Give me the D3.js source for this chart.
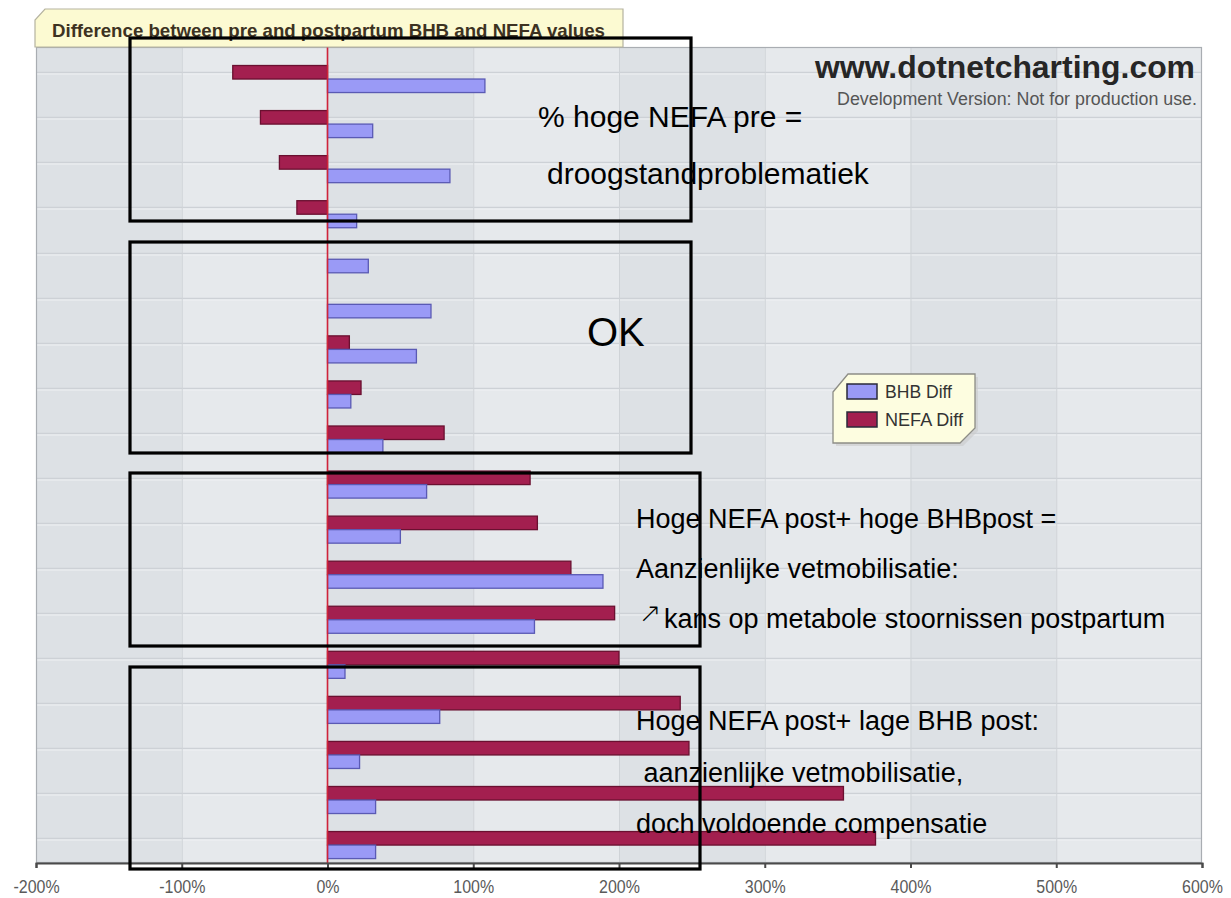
<!DOCTYPE html>
<html>
<head>
<meta charset="utf-8">
<script src="https://cdn.jsdelivr.net/npm/d3@7"></script>
<style>
  html, body { margin: 0; padding: 0; background: #ffffff; }
  svg { display: block; font-family: "Liberation Sans", Arial, sans-serif; }
</style>
</head>
<body>
<svg id="chart" width="1231" height="898"></svg>
<script>
// ---- data ----
const categories = ["1","2","3","4","5","6","7","8","9","10","11","12","13","14","15","16","17","18"];
const seriesNames = ["NEFA Diff", "BHB Diff"];
const bhbDiff  = [108, 31, 84, 20, 28, 71, 61, 16, 38, 68, 50, 189, 142, 12, 77, 22, 33, 33];
const nefaDiff = [-65, -46, -33, -21, 0, 0, 15, 23, 80, 139, 144, 167, 197, 200, 242, 248, 354, 376];
const xTicks = [-200, -100, 0, 100, 200, 300, 400, 500, 600];
const legendItems = ["BHB Diff", "NEFA Diff"];
const titleText = "Difference between pre and postpartum BHB and NEFA values";
const annotations = [
  ["% hoge NEFA pre =", "droogstandproblematiek"],
  ["OK"],
  ["Hoge NEFA post+ hoge BHBpost =", "Aanzienlijke vetmobilisatie:", "kans op metabole stoornissen postpartum"],
  ["Hoge NEFA post+ lage BHB post:", " aanzienlijke vetmobilisatie,", "doch voldoende compensatie"]
];

// ---- layout ----
const W = 1231, H = 898;
const plot = { left: 36, right: 1202, top: 47, bottom: 863 };
const colors = { "BHB Diff": "#9a9af6", "NEFA Diff": "#a31f4f" };
const strokes = { "BHB Diff": "#5a5ab4", "NEFA Diff": "#6a1030" };

const svg = d3.select("#chart");

const x = d3.scaleLinear().domain([-200, 600]).range([plot.left, plot.right]);
const y = d3.scaleBand().domain(categories).range([56.5, 867.6]).paddingInner(0.4).paddingOuter(0.2);
const sub = d3.scaleBand().domain(seriesNames).range([0, y.bandwidth()]);

const rows = categories.map((c, i) => ({ cat: c, "BHB Diff": bhbDiff[i], "NEFA Diff": nefaDiff[i] }));

// ---- plot background with alternating column bands ----
svg.append("rect").attr("x", plot.left).attr("y", plot.top)
  .attr("width", plot.right - plot.left).attr("height", plot.bottom - plot.top)
  .attr("fill", "#e5e8eb");
const intervals = d3.pairs(xTicks);
svg.append("g").selectAll("rect").data(intervals).join("rect")
  .attr("x", d => x(d[0])).attr("y", plot.top)
  .attr("width", d => x(d[1]) - x(d[0])).attr("height", plot.bottom - plot.top)
  .attr("fill", (d, i) => i % 2 === 0 ? "#dde1e5" : "#e6e9ec");

// horizontal gridlines
const hg = svg.append("g");
categories.forEach(c => {
  const gy = Math.round(y(c) + sub("NEFA Diff") + sub.bandwidth() / 2) + 0.5;
  hg.append("line").attr("x1", plot.left).attr("x2", plot.right).attr("y1", gy).attr("y2", gy)
    .attr("stroke", "#cdd1d6").attr("stroke-width", 1.5);
  hg.append("line").attr("x1", plot.left).attr("x2", plot.right).attr("y1", gy + 1.5).attr("y2", gy + 1.5)
    .attr("stroke", "#f0f2f4").attr("stroke-width", 1);
});
// vertical gridlines
svg.append("g").selectAll("line").data(xTicks.slice(1, -1)).join("line")
  .attr("x1", d => x(d) + 0.5).attr("x2", d => x(d) + 0.5)
  .attr("y1", plot.top).attr("y2", plot.bottom)
  .attr("stroke", "#cfd3d7").attr("stroke-width", 1);

// plot frame
svg.append("rect").attr("x", plot.left + 0.5).attr("y", plot.top + 0.5)
  .attr("width", plot.right - plot.left - 1).attr("height", plot.bottom - plot.top - 1)
  .attr("fill", "none").attr("stroke", "#a9adb2").attr("stroke-width", 1.2);

// ---- bars ----
const barG = svg.append("g");
rows.forEach(r => {
  seriesNames.forEach(s => {
    const v = r[s];
    if (v === 0) return;
    barG.append("rect")
      .attr("x", x(Math.min(0, v)))
      .attr("y", y(r.cat) + sub(s))
      .attr("width", Math.abs(x(v) - x(0)))
      .attr("height", sub.bandwidth())
      .attr("fill", colors[s])
      .attr("stroke", strokes[s])
      .attr("stroke-width", 1.3);
  });
});

// zero line
svg.append("line").attr("x1", x(0)).attr("x2", x(0)).attr("y1", plot.top).attr("y2", plot.bottom)
  .attr("stroke", "#d0243a").attr("stroke-width", 1.6);

// ---- x axis ----
const axis = d3.axisBottom(x).tickValues(xTicks).tickFormat(d => d + "%").tickSize(5).tickPadding(12);
const ax = svg.append("g").attr("transform", `translate(0,${plot.bottom})`).call(axis);
ax.select(".domain").attr("stroke", "#4a4a4a").attr("stroke-width", 2);
ax.selectAll(".tick line").attr("stroke", "#4a4a4a").attr("stroke-width", 2);
ax.selectAll(".tick text").attr("fill", "#5a5a5a")
  .style("font-family", "'Liberation Sans', Arial, sans-serif")
  .style("font-size", "19px")
  .each(function () {
    const w = this.getComputedTextLength();
    d3.select(this).attr("textLength", w * 0.84).attr("lengthAdjust", "spacingAndGlyphs");
  });

// ---- title tab ----
svg.append("path")
  .attr("d", "M35,47 L35,20 L45,9 L623,9 L623,47 Z")
  .attr("fill", "#fcfad2").attr("stroke", "#b5b3a0").attr("stroke-width", 1.2);
svg.append("text").attr("x", 52).attr("y", 37)
  .attr("textLength", 553).attr("lengthAdjust", "spacingAndGlyphs")
  .attr("fill", "#3d3222").attr("font-weight", "bold").attr("font-size", 19)
  .text(titleText);

// ---- watermark ----
svg.append("text").attr("x", 815).attr("y", 78)
  .attr("textLength", 380).attr("lengthAdjust", "spacingAndGlyphs")
  .attr("fill", "#262626").attr("font-weight", "bold").attr("font-size", 31)
  .text("www.dotnetcharting.com");
svg.append("text").attr("x", 837).attr("y", 105)
  .attr("textLength", 360).attr("lengthAdjust", "spacingAndGlyphs")
  .attr("fill", "#555").attr("font-size", 18)
  .text("Development Version: Not for production use.");

// ---- legend ----
const lg = svg.append("g");
lg.append("path").attr("d", "M836,395 L851,377 L978,377 L978,431 L963,446 L836,446 Z")
  .attr("fill", "#c9c9c9").attr("opacity", 0.6);
lg.append("path").attr("d", "M833,392 L848,374 L975,374 L975,428 L960,443 L833,443 Z")
  .attr("fill", "#fdfde0").attr("stroke", "#8d8d86").attr("stroke-width", 1.3);
legendItems.forEach((s, i) => {
  const ly = 384 + i * 28;
  lg.append("rect").attr("x", 847).attr("y", ly).attr("width", 30).attr("height", 15)
    .attr("fill", colors[s]).attr("stroke", "#2a2a3a").attr("stroke-width", 1.5);
  lg.append("text").attr("x", 885).attr("y", ly + 14)
    .attr("fill", "#333").attr("font-size", 18)
    .attr("textLength", s === "BHB Diff" ? 67 : 78).attr("lengthAdjust", "spacingAndGlyphs")
    .text(s);
});

// ---- annotation boxes ----
const boxG = svg.append("g").attr("fill", "none").attr("stroke", "#000").attr("stroke-width", 3.2);
const boxes = [
  { x0: 130, y0: 38, x1: 691, y1: 221 },
  { x0: 130, y0: 242, x1: 691, y1: 453 },
  { x0: 130, y0: 473, x1: 700, y1: 646 },
  { x0: 130, y0: 667, x1: 700, y1: 869 }
];
boxes.forEach(b => boxG.append("rect").attr("x", b.x0).attr("y", b.y0)
  .attr("width", b.x1 - b.x0).attr("height", b.y1 - b.y0));

const textG = svg.append("g").attr("fill", "#000")
  .style("font-family", "'Liberation Sans', Arial, sans-serif");
const annLayout = [
  { size: 30, lines: [[538, 127], [547, 184]] },
  { size: 40, lines: [[587, 346]] },
  { size: 27, lines: [[636, 528], [636, 578], [664, 628]] },
  { size: 27, lines: [[636, 730], [636, 782], [636, 833]] }
];
annotations.forEach((lines, bi) => {
  lines.forEach((t, li) => {
    const p = annLayout[bi].lines[li];
    textG.append("text").attr("x", p[0]).attr("y", p[1])
      .attr("font-size", annLayout[bi].size)
      .attr("xml:space", "preserve").style("white-space", "pre")
      .text(t);
  });
});
// rising arrow before "kans"
textG.append("text").attr("x", 639).attr("y", 622)
  .attr("font-size", 27).style("font-family", "'DejaVu Sans', sans-serif")
  .attr("font-weight", 200)
  .text("\u2197");
</script>
</body>
</html>
